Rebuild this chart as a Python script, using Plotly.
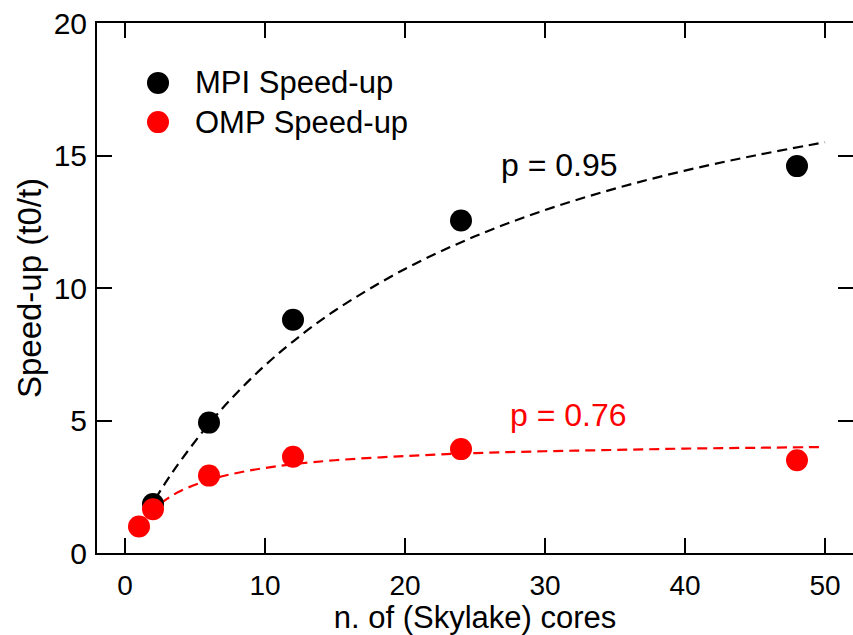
import plotly.graph_objects as go

# Measured speed-up vs number of cores
cores = [2, 6, 12, 24, 48]
mpi_speedup = [1.85, 4.92, 8.8, 12.55, 14.6]
omp_cores = [1, 2, 6, 12, 24, 48]
omp_speedup = [1.0, 1.65, 2.92, 3.63, 3.92, 3.5]

# Amdahl-law fit curves
fit_cores = [1, 1.5, 2, 3, 4, 6, 8, 10, 12, 15, 20, 25, 30, 35, 40, 45, 50]
mpi_fit = [1.0, 1.47, 1.9, 2.74, 3.5, 4.87, 6.05, 7.08, 7.98, 9.15, 10.72,
           11.95, 12.94, 13.75, 14.43, 15.0, 15.5]
omp_fit = [1.0, 1.34, 1.62, 2.04, 2.35, 2.76, 3.02, 3.21, 3.35, 3.5, 3.66,
           3.77, 3.84, 3.89, 3.94, 3.97, 4.0]

legend_labels = ["MPI Speed-up", "OMP Speed-up"]
fit_labels = ["p = 0.95", "p = 0.76"]

FONT = "Liberation Sans, Arial, Helvetica, sans-serif"
BLACK = "#000000"
RED = "#ff0000"
DASH = "10px,6px"

fig = go.Figure()

fig.add_trace(go.Scatter(x=fit_cores, y=mpi_fit, mode="lines",
                         line=dict(color=BLACK, width=2.2, dash=DASH),
                         line_shape="spline", showlegend=False, hoverinfo="skip"))
fig.add_trace(go.Scatter(x=fit_cores, y=omp_fit, mode="lines",
                         line=dict(color=RED, width=2.2, dash=DASH),
                         line_shape="spline", showlegend=False, hoverinfo="skip"))
fig.add_trace(go.Scatter(x=cores, y=mpi_speedup, mode="markers",
                         marker=dict(color=BLACK, size=22), name=legend_labels[0],
                         showlegend=False))
fig.add_trace(go.Scatter(x=omp_cores, y=omp_speedup, mode="markers",
                         marker=dict(color=RED, size=22), name=legend_labels[1],
                         showlegend=False))

# Hand-placed legend: big round markers with labels
for label, colour, ypos in [(legend_labels[0], BLACK, 0.887),
                            (legend_labels[1], RED, 0.813)]:
    fig.add_shape(type="circle", xref="paper", yref="paper",
                  xsizemode="pixel", ysizemode="pixel",
                  xanchor=0.0807, yanchor=ypos,
                  x0=-11, x1=11, y0=-11, y1=11,
                  fillcolor=colour, line=dict(width=0))
    fig.add_annotation(text=label, xref="paper", yref="paper",
                       x=0.127, y=ypos, xanchor="left", yanchor="middle",
                       showarrow=False, font=dict(size=31, color=BLACK, family=FONT))

fig.add_annotation(text=fit_labels[0], x=31.0, y=14.64, showarrow=False,
                   font=dict(size=32, color=BLACK, family=FONT))
fig.add_annotation(text=fit_labels[1], x=31.7, y=5.2, showarrow=False,
                   font=dict(size=32, color=RED, family=FONT))

axis_common = dict(showgrid=False, zeroline=False, showline=True,
                   linecolor=BLACK, linewidth=2, mirror="allticks",
                   ticks="inside", ticklen=15, tickwidth=2, tickcolor=BLACK)

fig.update_xaxes(range=[-2, 52], tickvals=[0, 10, 20, 30, 40, 50],
                 tickfont=dict(size=28, color=BLACK, family=FONT),
                 title=dict(text="n. of (Skylake) cores",
                            font=dict(size=31, color=BLACK, family=FONT),
                            standoff=0),
                 ticklabelstandoff=6, **axis_common)
fig.update_yaxes(range=[0, 20], tickvals=[0, 5, 10, 15, 20],
                 tickfont=dict(size=30, color=BLACK, family=FONT),
                 title=dict(text="Speed-up (t0/t)",
                            font=dict(size=33, color=BLACK, family=FONT),
                            standoff=2),
                 ticklabelstandoff=2, **axis_common)

fig.update_layout(width=853, height=635,
                  margin=dict(l=97, r=0, t=23, b=82, autoexpand=False),
                  paper_bgcolor="white", plot_bgcolor="white",
                  font=dict(family=FONT, color=BLACK), showlegend=False)

fig.write_html("out.html")
